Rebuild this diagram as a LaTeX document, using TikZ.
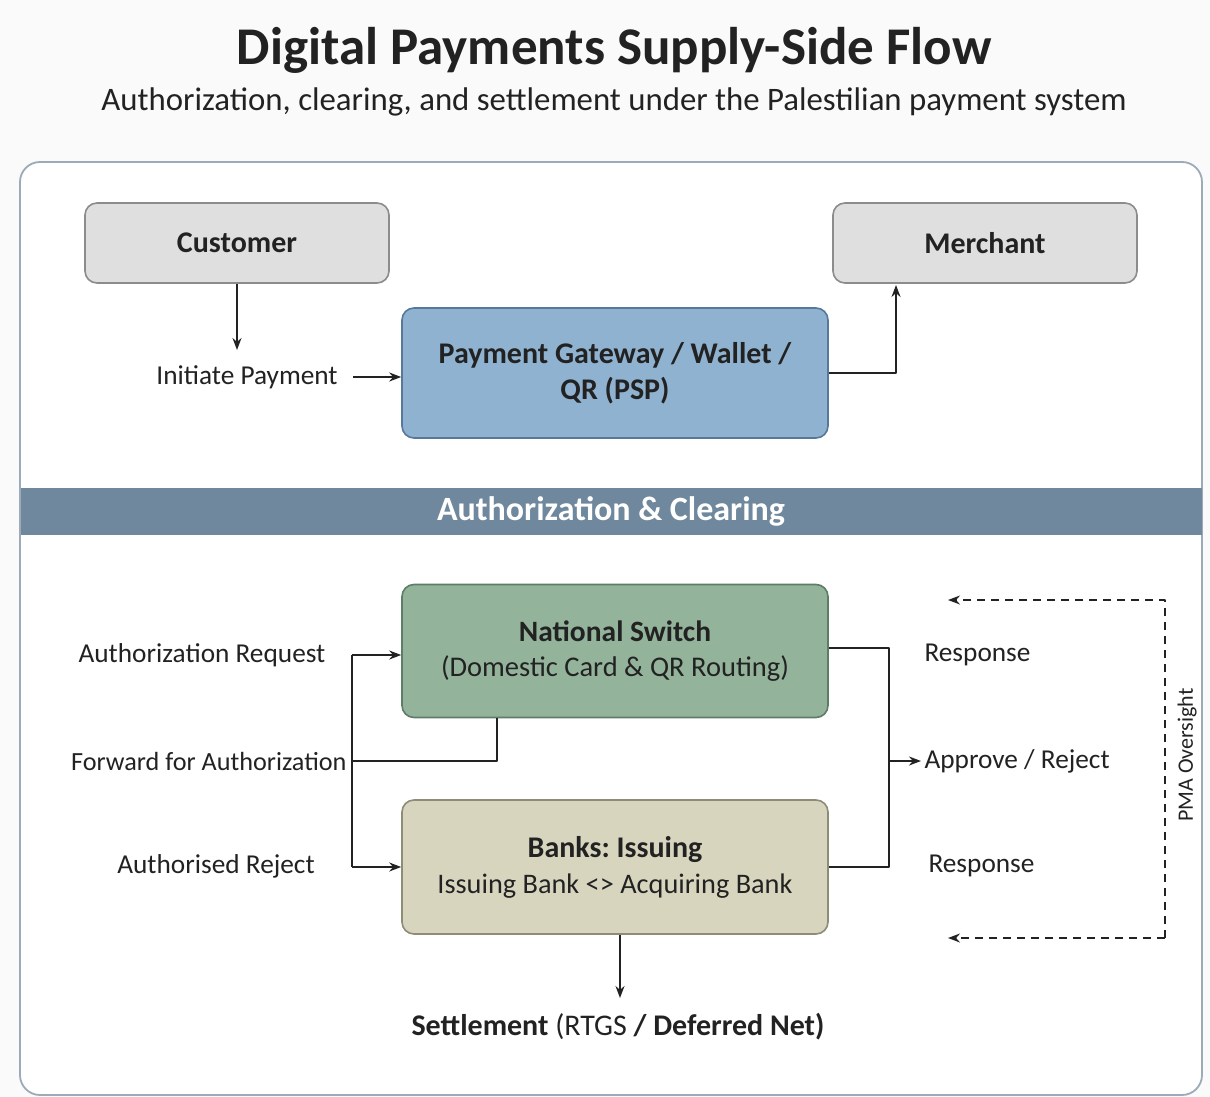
\documentclass[tikz,border=0pt]{standalone}
\usepackage{fontspec}
\setmainfont{Carlito}
\usepackage{tikz}
\usetikzlibrary{arrows.meta}
\frenchspacing

\definecolor{pagebg}{HTML}{FAFAFA}
\definecolor{framecol}{HTML}{9DAAB8}
\definecolor{inkcol}{HTML}{222222}
\definecolor{greyfill}{HTML}{DFDFDF}
\definecolor{greyline}{HTML}{8C8C8C}
\definecolor{pspfill}{HTML}{8EB2CF}
\definecolor{pspline}{HTML}{58789A}
\definecolor{swfill}{HTML}{93B39B}
\definecolor{swline}{HTML}{5E7D66}
\definecolor{bankfill}{HTML}{D8D5BF}
\definecolor{bankline}{HTML}{8E8B77}
\definecolor{bandcol}{HTML}{6F889D}

\tikzset{
  box/.style={draw, rounded corners=12pt, line width=1.6pt, align=center,
    minimum width=426pt, text=inkcol},
  endbox/.style={box, fill=greyfill, draw=greyline, minimum width=304pt,
    minimum height=80pt, font=\fontsize{30}{33}\selectfont\bfseries},
  lbl/.style={text=inkcol, font=\fontsize{27.3}{30}\selectfont},
  arr/.style={draw=inkcol, line width=1.6pt, -{Stealth[length=12pt,width=9pt]}},
  wire/.style={draw=inkcol, line width=1.6pt},
  dline/.style={draw=inkcol, line width=1.6pt, dash pattern=on 8pt off 6pt,
    -{Stealth[length=12pt,width=9pt]}},
}

\begin{document}
\begin{tikzpicture}[x=1pt,y=-1pt,line join=bevel]
\useasboundingbox[fill=pagebg] (0,0) rectangle (1210,1097);
%%
% Frame and band
\draw[framecol, fill=white, line width=1.8pt, rounded corners=20pt]
  (20,162) rectangle (1202,1095);
\node[fill=bandcol, minimum width=1181pt, minimum height=47pt, inner sep=0pt,
  text=white, font=\fontsize{34}{36}\selectfont\bfseries] (band) at (611,511)
  {Authorization \& Clearing};
% Titles
\node[text=inkcol, font=\fontsize{53}{56}\selectfont\bfseries] (title) at (614,50)
  {Digital Payments Supply-Side Flow};
\node[text=inkcol, font=\fontsize{32.8}{36}\selectfont] (subtitle) at (614,102)
  {Authorization, clearing, and settlement under the Palestilian payment system};
%%
% Node: customer
\node[endbox] (customer) at (237,243) {Customer};
% Node: merchant
\node[endbox] (merchant) at (985,243) {Merchant};
% Node: psp
\node[box, fill=pspfill, draw=pspline, minimum height=130pt,
  font=\fontsize{30}{36}\selectfont\bfseries] (psp) at (615,373)
  {Payment Gateway / Wallet /\\QR (PSP)};
% Node: switch
\node[box, fill=swfill, draw=swline, minimum height=133pt,
  font=\fontsize{28.5}{35}\selectfont] (switch) at (615,651)
  {\fontsize{29.5}{35}\selectfont\textbf{National Switch}\\(Domestic Card \& QR Routing)};
% Node: banks
\node[box, fill=bankfill, draw=bankline, minimum height=134pt,
  font=\fontsize{28.3}{36}\selectfont] (banks) at (615,867)
  {\fontsize{30}{36}\selectfont\textbf{Banks: Issuing}\\Issuing Bank <> Acquiring Bank};
%%
% Labels
\node[lbl] (initlbl) at (247,377) {Initiate Payment};
\node[lbl] (reqlbl) at (202,655) {Authorization Request};
\node[lbl, anchor=east, font=\fontsize{26.2}{29}\selectfont] (fwdlbl) at (350,761)
  {Forward for Authorization};
\node[lbl] (rejlbl) at (216,866) {Authorised Reject};
\node[lbl, anchor=west] (resp1) at (921,655) {Response};
\node[lbl, anchor=west] (apprlbl) at (921,761) {Approve / Reject};
\node[lbl, anchor=west] (resp2) at (925,866) {Response};
\node[lbl, rotate=90, font=\fontsize{22}{25}\selectfont] (pmalbl) at (1187,755)
  {PMA Oversight};
\node[text=inkcol, font=\fontsize{30}{33}\selectfont] (settle) at (618,1027)
  {\textbf{Settlement} (RTGS \textbf{/ Deferred Net)}};
%%
% Junctions
\coordinate (merchin) at (896,285);
\coordinate (lbtop) at (352,655);
\coordinate (lbmid) at (352,761);
\coordinate (lbbot) at (352,867);
\coordinate (rbus) at (889,761);
\coordinate (pmatop) at (1165,600);
\coordinate (pmabot) at (1165,938);
\coordinate (pmaout1) at (948,600);
\coordinate (pmaout2) at (948,938);
%%
% Edge: customer -> psp
\draw[arr] (customer.south) -- (customer.south |- 0,350);
\draw[arr] ([xshift=12pt]initlbl.east) -- (psp.west |- initlbl.east);
% Edge: psp -> merchant
\draw[arr] (psp.east) -| (merchin);
% Edge: request bus -> switch, banks
\draw[wire] (lbtop) -- (lbbot);
\draw[arr] (lbtop) -- (lbtop -| switch.west);
\draw[arr] (lbbot) -- (lbbot -| banks.west);
% Edge: switch -> forward
\draw[wire] (lbmid) -| ([xshift=-118pt]switch.south);
% Edge: switch, banks -> approve / reject
\draw[wire] ([yshift=3pt]switch.east) -| (rbus) |- (banks.east);
\draw[arr] (rbus) -- (apprlbl.west);
% Edge: oversight
\draw[dline] (pmabot) -- (pmatop) -- (pmaout1);
\draw[dline] (pmabot) -- (pmaout2);
% Edge: banks -> settlement
\draw[arr] ([xshift=5pt]banks.south) -- ([xshift=5pt]banks.south |- 0,998);
%
\end{tikzpicture}
\end{document}
